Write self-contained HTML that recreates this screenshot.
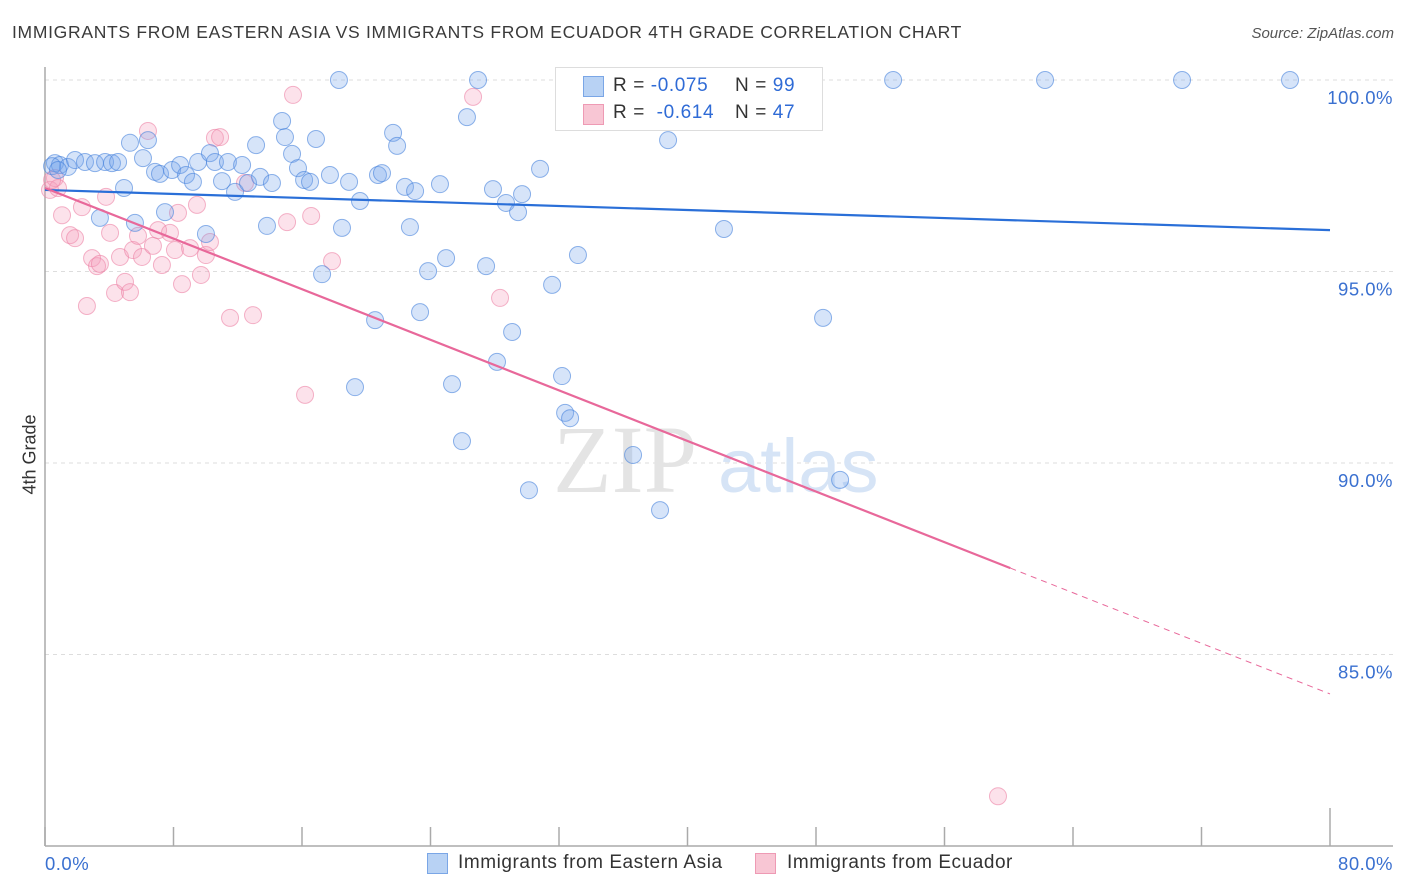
<!DOCTYPE html>
<html><head><meta charset="utf-8"><style>
body{margin:0;background:#fff;font-family:"Liberation Sans",sans-serif;}
#wrap{position:relative;width:1406px;height:892px;overflow:hidden;}
.t{position:absolute;white-space:nowrap;}
</style></head><body>
<div id="wrap">
<div class="t" style="left:12px;top:22px;font-size:17.5px;color:#3a3a3a;letter-spacing:0.7px;">IMMIGRANTS FROM EASTERN ASIA VS IMMIGRANTS FROM ECUADOR 4TH GRADE CORRELATION CHART</div>
<div class="t" style="right:12px;top:25px;font-size:15px;color:#555;font-style:italic;">Source: ZipAtlas.com</div>
<div class="t" style="left:-10px;top:444px;font-size:18px;color:#333;transform:rotate(-90deg);width:80px;text-align:center;">4th Grade</div>
<svg id="svg" width="1406" height="892" style="position:absolute;left:0;top:0"></svg>
<div style="position:absolute;left:555px;top:67px;width:266px;height:62px;border:1px solid #ddd;background:#fff;font-size:19px;letter-spacing:0.6px;">
 <div style="position:absolute;left:27px;top:8px;width:19px;height:19px;background:#b8d2f4;border:1px solid #7aa6e6;"></div>
 <div class="t" style="left:57px;top:7px;color:#333;">R = <span style="color:#2f6bd6">-0.075</span></div>
 <div class="t" style="left:179px;top:7px;color:#333;">N = <span style="color:#2f6bd6">99</span></div>
 <div style="position:absolute;left:27px;top:36px;width:19px;height:19px;background:#f8c6d4;border:1px solid #ee9ab4;"></div>
 <div class="t" style="left:57px;top:34px;color:#333;">R = &nbsp;<span style="color:#2f6bd6">-0.614</span></div>
 <div class="t" style="left:179px;top:34px;color:#333;">N = <span style="color:#2f6bd6">47</span></div>
</div>
<div style="position:absolute;left:427px;top:853px;width:19px;height:19px;background:#b8d2f4;border:1px solid #7aa6e6;"></div>
<div class="t" style="left:458px;top:852px;font-size:19px;color:#333;letter-spacing:0.55px;">Immigrants from Eastern Asia</div>
<div style="position:absolute;left:755px;top:853px;width:19px;height:19px;background:#f8c6d4;border:1px solid #ee9ab4;"></div>
<div class="t" style="left:787px;top:852px;font-size:19px;color:#333;letter-spacing:0.55px;">Immigrants from Ecuador</div>
</div>
<script>
const xTickLabels=["0.0%","80.0%"];
const yTicks=[100,95,90,85];
const yTickLabels=["100.0%","95.0%","90.0%","85.0%"];
const blueX=[0.62,0.93,1.43,1.87,2.49,3.11,3.74,4.17,4.55,5.29,6.10,6.41,6.85,7.16,7.47,7.91,8.41,8.78,9.21,9.53,10.02,10.27,10.58,11.02,11.39,11.83,12.27,12.64,13.14,13.39,13.82,14.13,14.76,14.94,15.38,15.75,16.13,16.50,16.87,17.25,17.74,18.30,18.49,18.93,19.30,19.61,20.55,20.73,20.98,21.67,21.92,22.41,22.72,23.04,23.35,23.85,24.59,24.97,25.34,25.96,26.27,26.96,27.46,27.89,28.14,28.70,29.08,29.45,29.70,30.13,30.82,31.57,32.19,32.38,32.69,33.18,34.06,36.61,37.04,38.29,38.79,42.27,43.27,48.44,49.50,52.80,62.26,70.79,77.51,3.42,4.92,5.60,0.44,0.81];
const blueY=[97.83,97.78,97.73,97.91,97.86,97.83,97.86,97.83,97.86,98.36,97.96,98.43,97.60,97.55,96.55,97.65,97.78,97.52,97.34,97.86,95.98,98.09,97.86,97.36,97.86,97.08,97.78,97.31,98.30,97.47,96.19,97.31,98.93,98.51,98.07,97.70,97.39,97.34,98.46,94.93,97.52,100.0,96.14,97.34,91.98,96.84,93.73,97.52,97.57,98.62,98.28,97.21,96.16,97.10,93.94,95.01,97.28,95.35,92.06,90.57,99.03,100.0,95.14,97.15,92.64,96.79,93.42,96.55,97.02,89.29,97.68,94.65,92.27,91.31,91.17,95.43,100.0,90.21,100.0,88.77,98.43,96.11,100.0,93.79,89.56,100.0,100.0,100.0,100.0,96.40,97.18,96.27,97.75,97.65];
const pinkX=[0.31,0.62,0.81,0.44,1.06,1.56,1.87,2.30,2.61,2.93,3.24,3.42,3.80,4.05,4.36,4.67,4.98,5.29,5.48,5.79,6.04,6.41,6.72,7.04,7.28,7.78,8.09,8.28,8.53,9.03,9.46,9.71,10.02,10.27,10.58,10.90,11.52,12.45,12.95,15.07,15.44,16.19,16.57,17.87,26.65,28.33,59.33];
const pinkY=[97.13,97.44,97.18,97.39,96.47,95.95,95.87,96.68,94.10,95.35,95.14,95.20,96.95,96.01,94.44,95.38,94.73,94.46,95.56,95.93,95.38,98.67,95.67,96.08,95.17,96.01,95.56,96.53,94.67,95.61,96.74,94.91,95.43,95.77,98.49,98.51,93.79,97.31,93.86,96.29,99.61,91.78,96.45,95.27,99.56,94.31,81.30];
const blueTrend=[97.13,96.08];   // y at x=0, x=80
const pinkTrend=[97.18,83.97];   // y at x=0, x=80
const pinkSolidEnd=60.1;

const X=v=>45+v/80*1285;
const Y=v=>80+(100-v)*38.3;
const svg=document.getElementById('svg');
const NS='http://www.w3.org/2000/svg';
function mk(t,a){const e=document.createElementNS(NS,t);for(const k in a)e.setAttribute(k,a[k]);svg.appendChild(e);return e;}

yTicks.forEach((v,i)=>{
  const g=mk('line',{x1:45,x2:1393,y1:Y(v),y2:Y(v),stroke:'#ddd','stroke-dasharray':'4,4'});
  
  
  const t=mk('text',{x:1393,y:Y(v)+24,'text-anchor':'end','font-size':'18.5',fill:'#3a70d0','font-family':'Liberation Sans, sans-serif','letter-spacing':'0.5'});
  t.textContent=yTickLabels[i];
  
  
});
let ax=mk('line',{x1:45,x2:45,y1:67,y2:846,stroke:'#aaa','stroke-width':1.5});


ax=mk('line',{x1:45,x2:1393,y1:846,y2:846,stroke:'#aaa','stroke-width':1.5});


for(let i=0;i<=10;i++){
  const x=X(i*8);
  const tk=mk('line',{x1:x,x2:x,y1:i==10?808:827,y2:846,stroke:'#aaa','stroke-width':1.5});
  
  
}
let xl=mk('text',{x:45,y:870,'font-size':'18.5',fill:'#3a70d0','font-family':'Liberation Sans, sans-serif','letter-spacing':'0.5'});
xl.textContent=xTickLabels[0];


xl=mk('text',{x:1393,y:870,'text-anchor':'end','font-size':'18.5',fill:'#3a70d0','font-family':'Liberation Sans, sans-serif','letter-spacing':'0.5'});
xl.textContent=xTickLabels[1];



let wm=mk('text',{x:553,y:492,'font-size':'96','font-family':'Liberation Serif, serif',fill:'#e4e4e4'});
wm.textContent='ZIP';


wm=mk('text',{x:718,y:492,'font-size':'76','font-family':'Liberation Sans, sans-serif',fill:'#d6e4f6'});
wm.textContent='atlas';



pinkX.forEach((x,i)=>{
  const c=mk('circle',{cx:X(x),cy:Y(pinkY[i]),r:8.5,fill:'rgba(244,160,188,0.3)',stroke:'rgba(236,130,165,0.6)','stroke-width':1});
  
  
});
blueX.forEach((x,i)=>{
  const c=mk('circle',{cx:X(x),cy:Y(blueY[i]),r:8.5,fill:'rgba(120,165,235,0.3)',stroke:'rgba(70,130,220,0.6)','stroke-width':1});
  
  
});
const pAt=x=>pinkTrend[0]+(pinkTrend[1]-pinkTrend[0])*x/80;
let l=mk('line',{x1:X(0),y1:Y(blueTrend[0]),x2:X(80),y2:Y(blueTrend[1]),stroke:'#2a6fd8','stroke-width':2.2});


l=mk('line',{x1:X(0),y1:Y(pinkTrend[0]),x2:X(pinkSolidEnd),y2:Y(pAt(pinkSolidEnd)),stroke:'#e8689a','stroke-width':2.2});


l=mk('line',{x1:X(pinkSolidEnd),y1:Y(pAt(pinkSolidEnd)),x2:X(80),y2:Y(pinkTrend[1]),stroke:'#e8689a','stroke-width':1,'stroke-dasharray':'6,5'});


</script>
</body></html>
